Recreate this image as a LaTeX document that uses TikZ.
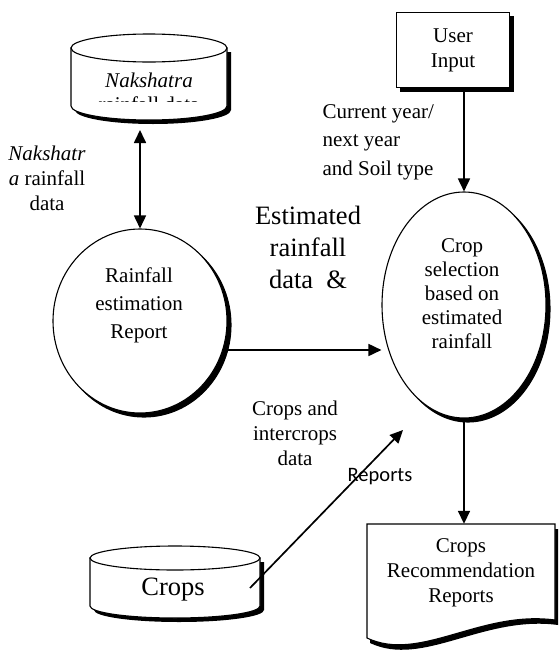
\documentclass[tikz,border=0pt]{standalone}
\usepackage{fontspec}
\setmainfont{Liberation Serif}
\newfontfamily\calibrifont{Carlito}
\usetikzlibrary{arrows.meta,shapes.geometric}

\begin{document}
\begin{tikzpicture}[x=1pt,y=-1pt,font=\fontsize{21}{25}\selectfont,
  outline/.style={draw=black,line width=1.1pt,fill=white},
  shade box/.style={outline,preaction={fill=black,draw=black,transform canvas={xshift=4pt,yshift=-4pt}}},
  flow/.style={line width=1.7pt,-{Triangle[width=12pt,length=13pt]}},
  twoway/.style={line width=1.7pt,{Triangle[width=12pt,length=13pt]}-{Triangle[width=12pt,length=13pt]}},
  big/.style={font=\fontsize{26.5}{32}\selectfont}]
\useasboundingbox (0,0) rectangle (559,651);
% Nakshatra store
\fill (75,52) -- (75,110) arc[start angle=180,end angle=0,x radius=78,y radius=14] -- (231,52) -- cycle;
\path[outline] (71,48) -- (71,106) arc[start angle=180,end angle=0,x radius=78,y radius=14] -- (227,48) -- cycle;
\path[outline] (149,48) ellipse[x radius=78,y radius=14];
\node (naks) at (149,80) {\itshape Nakshatra};
\begin{scope}
\clip (72,88) rectangle (226,101);
\node[anchor=base] (nakscut) at (149,111) {rainfall data};
\end{scope}
\coordinate (naksout) at (140,130);
% processes
\node[ellipse,shade box,minimum width=174pt,minimum height=184pt] (rain) at (140,321) {};
\node[align=center,font=\fontsize{21}{28}\selectfont] (raintxt) at (139,305) {Rainfall\\estimation\\Report};
\node[ellipse,shade box,minimum width=164pt,minimum height=226pt] (sel) at (464,305) {};
\node[align=center,font=\fontsize{21}{24}\selectfont] (seltxt) at (462,294) {Crop\\selection\\based on\\estimated\\rainfall};
\node[shade box,minimum width=113pt,minimum height=75pt,align=center] (user) at (453,50) {User\\Input};
% report document
\fill (370,529) -- (558,529) -- (558,625) .. controls (483,615) and (423,668) .. (370,643) -- cycle;
\path[outline] (367,524) -- (555,524) -- (555,620) .. controls (480,610) and (420,663) .. (367,638) -- cycle;
\node[align=center,minimum width=188pt,minimum height=98pt] (doc) at (461,573) {Crops\\Recommendation\\Reports};
% crops store
\fill (94,562) -- (94,610) arc[start angle=180,end angle=0,x radius=85,y radius=12] -- (264,562) -- cycle;
\path[outline] (90,558) -- (90,606) arc[start angle=180,end angle=0,x radius=85,y radius=12] -- (260,558) -- cycle;
\path[outline] (175,558) ellipse[x radius=85,y radius=12];
\node[big] (cropsdb) at (173,590) {Crops};
\coordinate (cropsout) at (250,588);
\coordinate (selin) at (403,430);
\coordinate (rainout) at (225,350);
% flows
\draw[twoway] (naksout) -- (rain.north);
\draw[flow] (user.south -| sel.north) -- (sel.north);
\draw[flow] (rainout) -- (rainout -| sel.west);
\draw[flow] (cropsout) -- (selin);
\draw[flow] (sel.south) -- (sel.south |- doc.north);
% labels
\node[align=center] (lblnaks) at (47,178) {\textit{Nakshatr}\\\textit{a} rainfall\\data};
\node[align=left,anchor=west,font=\fontsize{21}{28.5}\selectfont] (lbluser) at (319,142) {Current year/\\next year\\and Soil type};
\node[big,align=center] (lblest) at (308,247) {Estimated\\rainfall\\data\ \ \&};
\node[align=center] (lblcrops) at (295,433) {Crops and\\intercrops\\data};
\node[font=\calibrifont\fontsize{20.5}{24}\selectfont] (lblrep) at (380,477) {Reports};
\end{tikzpicture}
\end{document}
